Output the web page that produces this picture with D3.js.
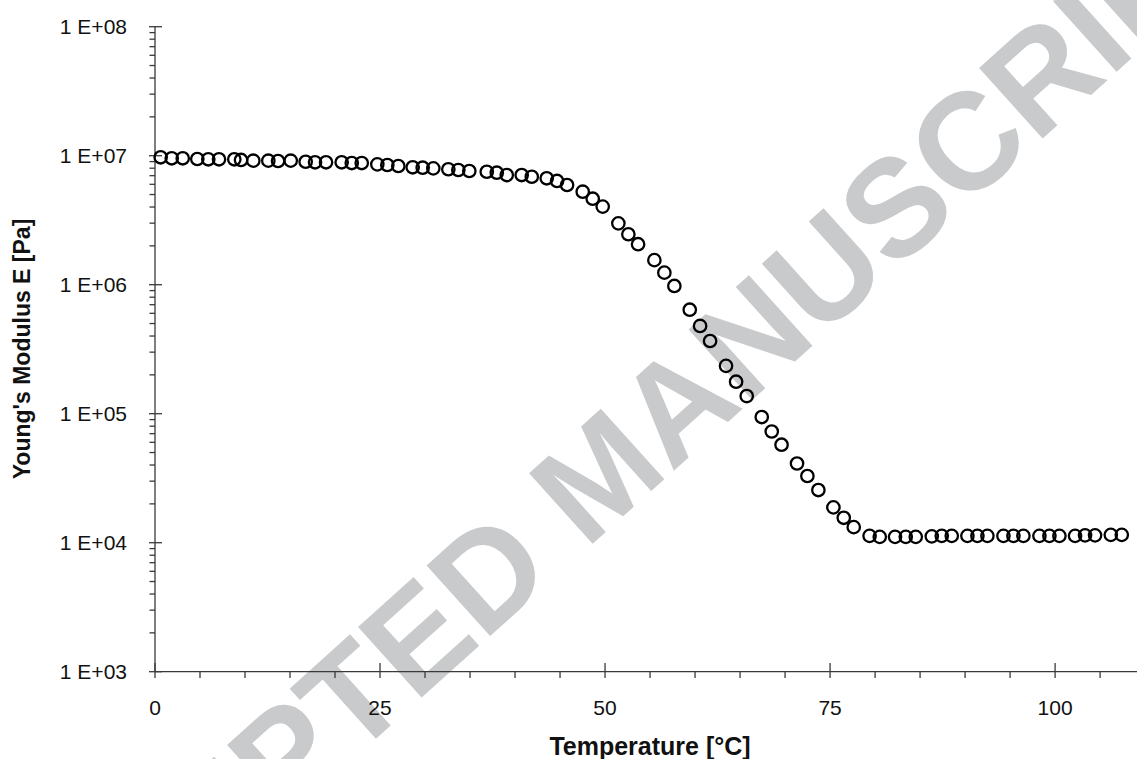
<!DOCTYPE html>
<html>
<head>
<meta charset="utf-8">
<script src="https://cdn.jsdelivr.net/npm/d3@7"></script>
<style>
  body { margin: 0; background: #fff; }
  svg { display: block; font-family: "Liberation Sans", Arial, sans-serif; }
</style>
</head>
<body>
<div id="chart"></div>
<script>
// Temperature [°C] readings
const temperature = [
  0.63, 1.86, 3.08, 4.70, 5.92, 7.11, 8.81, 9.56, 10.92, 12.59,
  13.67, 15.08, 16.74, 17.78, 19.00, 20.74, 21.86, 22.97, 24.70, 25.81,
  27.03, 28.63, 29.74, 30.92, 32.59, 33.70, 34.92, 36.86, 37.97, 39.08,
  40.74, 41.86, 43.52, 44.67, 45.78, 47.52, 48.63, 49.74, 51.48, 52.59,
  53.67, 55.48, 56.59, 57.70, 59.41, 60.56, 61.67, 63.44, 64.56, 65.74,
  67.41, 68.52, 69.61, 71.33, 72.48, 73.70, 75.37, 76.52, 77.63, 79.39,
  80.52, 82.22, 83.41, 84.52, 86.30, 87.41, 88.52, 90.26, 91.37, 92.48,
  94.26, 95.37, 96.48, 98.26, 99.37, 100.48, 102.22, 103.33, 104.44, 106.19,
  107.41
];
// Young's modulus E [Pa]
const modulus = [
  9.72e6, 9.55e6, 9.55e6, 9.43e6, 9.38e6, 9.38e6, 9.38e6, 9.27e6, 9.15e6, 9.15e6,
  9.10e6, 9.15e6, 8.98e6, 8.89e6, 8.89e6, 8.89e6, 8.77e6, 8.77e6, 8.57e6, 8.47e6,
  8.32e6, 8.13e6, 8.07e6, 7.98e6, 7.85e6, 7.75e6, 7.61e6, 7.51e6, 7.38e6, 7.08e6,
  7.08e6, 6.87e6, 6.68e6, 6.37e6, 5.93e6, 5.26e6, 4.64e6, 4.03e6, 2.99e6, 2.46e6,
  2.06e6, 1.55e6, 1.24e6, 9.78e5, 6.40e5, 4.79e5, 3.66e5, 2.35e5, 1.77e5, 1.37e5,
  9.42e4, 7.28e4, 5.75e4, 4.11e4, 3.29e4, 2.56e4, 1.88e4, 1.56e4, 1.32e4, 1.13e4,
  1.11e4, 1.11e4, 1.11e4, 1.11e4, 1.12e4, 1.13e4, 1.13e4, 1.13e4, 1.13e4, 1.13e4,
  1.13e4, 1.13e4, 1.13e4, 1.13e4, 1.13e4, 1.13e4, 1.13e4, 1.14e4, 1.14e4, 1.15e4,
  1.15e4
];
const xTicks = [0, 25, 50, 75, 100];
const xMinorTicks = d3.range(0, 110, 5);
const yTicks = [1e3, 1e4, 1e5, 1e6, 1e7, 1e8];
const watermarkText = "ACCEPTED MANUSCRIPT";

var width = 1137, height = 759;
var axisColor = "#3a3a3a";

const svg = d3.select("#chart").append("svg")
  .attr("width", width)
  .attr("height", height);

var x = d3.scaleLinear().domain([0, 109.1]).range([155, 1137]);
var y = d3.scaleLog().domain([1e3, 1e8]).range([671.7, 26.7]);

// watermark behind everything
svg.append("text")
  .attr("transform", "translate(598,472) rotate(-42)")
  .attr("text-anchor", "middle")
  .attr("dy", "0.36em")
  .style("font-family", "'Liberation Sans', Arial, sans-serif")
  .style("font-weight", "bold")
  .style("font-size", "138px")
  .attr("fill", "#c9cacc")
  .text(watermarkText);

// minor ticks on the log axis (2..9 per decade)
var yMinor = [];
for (let d = 3; d < 8; d++) {
  for (let m = 2; m < 10; m++) yMinor.push(m * Math.pow(10, d));
}
svg.append("g").selectAll("line")
  .data(yMinor)
  .enter().append("line")
  .attr("x1", 149.5).attr("x2", 155)
  .attr("y1", d => y(d)).attr("y2", d => y(d))
  .attr("stroke", axisColor).attr("stroke-width", 1.3);

svg.append("g").selectAll("line")
  .data(yTicks)
  .enter().append("line")
  .attr("x1", 149).attr("x2", 162)
  .attr("y1", d => y(d)).attr("y2", d => y(d))
  .attr("stroke", axisColor).attr("stroke-width", 1.3);

svg.append("g").selectAll("text")
  .data(yTicks)
  .enter().append("text")
  .attr("x", 127)
  .attr("y", d => y(d))
  .attr("dy", "0.36em")
  .attr("text-anchor", "end")
  .style("font-size", "21px")
  .attr("fill", "#111")
  .text(d => "1 E+" + d3.format("02d")(Math.round(Math.log10(d))));

// x minor + major ticks
svg.append("g").selectAll("line")
  .data(xMinorTicks.filter(d => xTicks.indexOf(d) < 0))
  .enter().append("line")
  .attr("x1", d => x(d)).attr("x2", d => x(d))
  .attr("y1", 671.7).attr("y2", 678)
  .attr("stroke", axisColor).attr("stroke-width", 1.3);

svg.append("g").selectAll("line")
  .data(xTicks)
  .enter().append("line")
  .attr("x1", d => x(d)).attr("x2", d => x(d))
  .attr("y1", 663).attr("y2", 678)
  .attr("stroke", axisColor).attr("stroke-width", 1.3);

svg.append("g").selectAll("text")
  .data(xTicks)
  .enter().append("text")
  .attr("x", d => x(d))
  .attr("y", 714.5)
  .attr("text-anchor", "middle")
  .style("font-size", "21px")
  .attr("fill", "#111")
  .text(d => d);

// axis lines
svg.append("line")
  .attr("x1", x(0)).attr("x2", x(0))
  .attr("y1", y(1e8)).attr("y2", y(1e3))
  .attr("stroke", axisColor).attr("stroke-width", 1.3);
svg.append("line")
  .attr("x1", x(0)).attr("x2", width)
  .attr("y1", y(1e3)).attr("y2", y(1e3))
  .attr("stroke", axisColor).attr("stroke-width", 1.3);

// axis titles
svg.append("text")
  .attr("x", 650)
  .attr("y", 755)
  .attr("text-anchor", "middle")
  .style("font-size", "25px")
  .style("font-weight", "bold")
  .attr("fill", "#111")
  .text("Temperature [°C]");

svg.append("text")
  .attr("transform", "translate(30,349) rotate(-90)")
  .attr("text-anchor", "middle")
  .style("font-size", "23px")
  .style("font-weight", "bold")
  .attr("fill", "#111")
  .text("Young's Modulus E [Pa]");

// data markers
svg.append("g").selectAll("circle")
  .data(temperature)
  .enter().append("circle")
  .attr("cx", d => x(d))
  .attr("cy", (d, i) => y(modulus[i]))
  .attr("r", 6.2)
  .attr("fill", "none")
  .attr("stroke", "#000")
  .attr("stroke-width", 2.3);
</script>
</body>
</html>
